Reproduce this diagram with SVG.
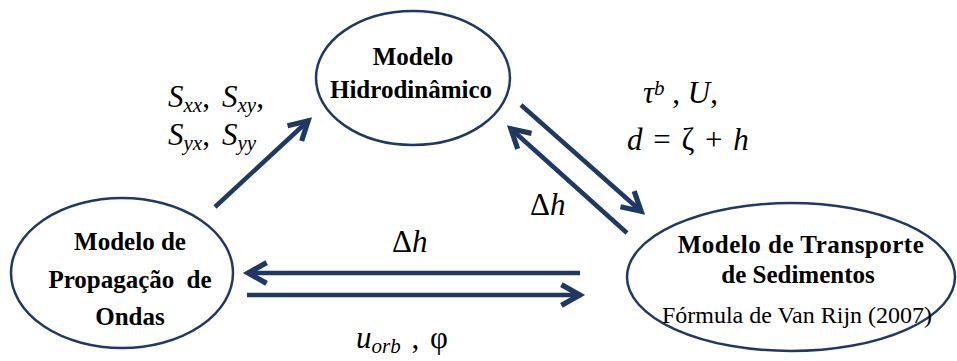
<svg xmlns="http://www.w3.org/2000/svg" width="957" height="361" viewBox="0 0 957 361">
<defs>
<style>
.node{fill:#ffffff;stroke:#1f3864;stroke-width:2.5}
.t{font-family:"Liberation Serif","Times New Roman",serif;font-weight:bold;font-size:25px;fill:#000;text-anchor:middle}
.r{font-family:"Liberation Serif","Times New Roman",serif;font-size:24px;fill:#000;text-anchor:middle}
.m{font-family:"Liberation Serif","Times New Roman",serif;font-style:italic;font-size:31px;fill:#000}
.s{font-size:21px}
.u{font-style:normal}
.c{stroke:#1f3864;stroke-width:4.5;fill:none}
</style>
<marker id="ah" markerUnits="userSpaceOnUse" markerWidth="30" markerHeight="30" viewBox="-22 -13 26 26" refX="0" refY="0" orient="auto">
<path d="M -17,-9 L -1,0 L -17,9" fill="none" stroke="#1f3864" stroke-width="4.5" stroke-linejoin="miter"/>
</marker>
</defs>
<rect width="957" height="361" fill="#ffffff"/>
<g id="connectors">
<line class="c" x1="215" y1="207" x2="309" y2="120" marker-end="url(#ah)"/>
<line class="c" x1="521" y1="105" x2="642" y2="212" marker-end="url(#ah)"/>
<line class="c" x1="627" y1="233" x2="510" y2="128" marker-end="url(#ah)"/>
<line class="c" x1="580" y1="273" x2="247" y2="273" marker-end="url(#ah)"/>
<line class="c" x1="247" y1="295" x2="581" y2="295" marker-end="url(#ah)"/>
</g>
<g id="node-hidro">
<ellipse class="node" cx="413" cy="78" rx="97" ry="67"/>
<text class="t" x="413" y="65">Modelo</text>
<text class="t" x="411" y="98">Hidrodinâmico</text>
</g>
<g id="node-ondas">
<ellipse class="node" cx="122" cy="273" rx="111" ry="75"/>
<text class="t" x="130" y="250">Modelo de</text>
<text class="t" x="130" y="288" word-spacing="6">Propagação de</text>
<text class="t" x="130" y="325">Ondas</text>
</g>
<g id="node-sedimentos">
<ellipse class="node" cx="791" cy="277" rx="164" ry="74"/>
<text class="t" x="801" y="253" font-size="28" letter-spacing="0.5">Modelo de Transporte</text>
<text class="t" x="798" y="283" font-size="27">de Sedimentos</text>
<text class="r" x="797" y="323">Fórmula de Van Rijn (2007)</text>
</g>
<g id="labels">
<text class="m" x="168" y="107">S<tspan class="s" dy="5">xx</tspan><tspan dy="-5" class="u">,</tspan></text>
<text class="m" x="222" y="107">S<tspan class="s" dy="5">xy</tspan><tspan dy="-5" class="u">,</tspan></text>
<text class="m" x="168" y="145">S<tspan class="s" dy="5">yx</tspan><tspan dy="-5" class="u">,</tspan></text>
<text class="m" x="222" y="145">S<tspan class="s" dy="5">yy</tspan></text>
<text class="m" x="643" y="103">τ<tspan class="s" dy="-8">b</tspan><tspan dy="8" class="u"> , </tspan>U<tspan class="u">,</tspan></text>
<text class="m" x="627" y="150" word-spacing="3">d <tspan class="u">= ζ +</tspan> h</text>
<text class="m" x="530" y="215"><tspan class="u">Δ</tspan>h</text>
<text class="m" x="392" y="252"><tspan class="u">Δ</tspan>h</text>
<text class="m" x="356" y="348">u<tspan class="s" dy="5">orb</tspan><tspan dy="-5" class="u" word-spacing="3"> , φ</tspan></text>
</g>
</svg>
